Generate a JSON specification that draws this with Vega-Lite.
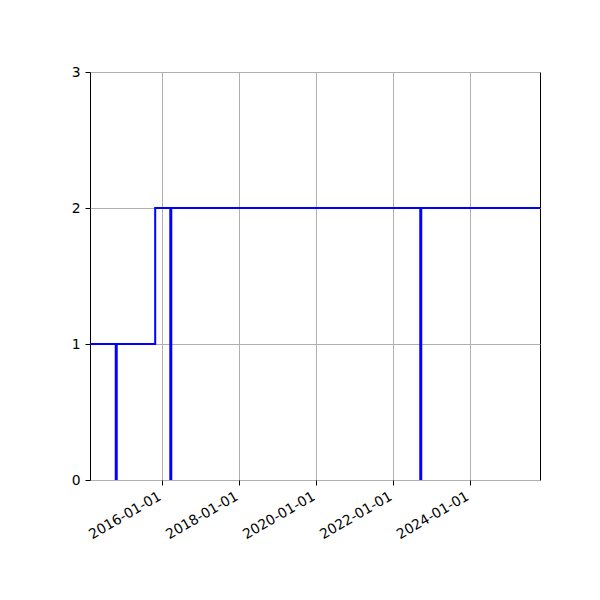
{
  "$schema": "https://vega.github.io/schema/vega-lite/v6.json",
  "autosize": "none",
  "width": 450,
  "height": 408,
  "padding": {"left": 90, "top": 72, "right": 60, "bottom": 120},
  "config": {
    "font": "DejaVu Sans",
    "view": {"stroke": "black", "strokeWidth": 1},
    "axis": {
      "domain": false,
      "grid": true,
      "gridColor": "#b0b0b0",
      "gridWidth": 1,
      "tickColor": "black",
      "tickSize": 5,
      "tickWidth": 1,
      "labelFont": "DejaVu Sans",
      "labelFontSize": 13.9,
      "labelColor": "black",
      "labelPadding": 4,
      "title": null
    }
  },
  "datasets": {
    "steps": [
      {"date": "2014-02-15", "count": 1},
      {"date": "2015-10-27", "count": 2},
      {"date": "2025-10-27", "count": 2}
    ],
    "events": [
      {"date": "2014-10-22", "count": 1},
      {"date": "2016-03-23", "count": 2},
      {"date": "2022-09-21", "count": 2}
    ]
  },
  "encoding": {
    "x": {
      "field": "date",
      "type": "temporal",
      "scale": {"type": "utc", "domain": ["2014-02-15", "2025-10-27"], "nice": false},
      "axis": {
        "values": [
          {"year": 2016, "month": 1, "date": 1, "utc": true},
          {"year": 2018, "month": 1, "date": 1, "utc": true},
          {"year": 2020, "month": 1, "date": 1, "utc": true},
          {"year": 2022, "month": 1, "date": 1, "utc": true},
          {"year": 2024, "month": 1, "date": 1, "utc": true}
        ],
        "labelExpr": "utcFormat(datum.value, '%Y-%m-%d')",
        "labelAngle": -30,
        "labelAlign": "right",
        "labelBaseline": "top",
        "labelOffset": -6,
        "labelFlush": false,
        "labelOverlap": false
      }
    },
    "y": {
      "field": "count",
      "type": "quantitative",
      "scale": {"domain": [0, 3], "nice": false, "zero": true},
      "axis": {"values": [0, 1, 2, 3], "labelPadding": 5}
    }
  },
  "layer": [
    {
      "data": {"name": "steps"},
      "mark": {"type": "line", "interpolate": "step-after", "color": "blue", "strokeWidth": 2, "clip": true}
    },
    {
      "data": {"name": "events"},
      "mark": {"type": "rule", "color": "blue", "strokeWidth": 3},
      "encoding": {
        "y": {"datum": 0, "type": "quantitative"},
        "y2": {"field": "count"}
      }
    }
  ]
}
